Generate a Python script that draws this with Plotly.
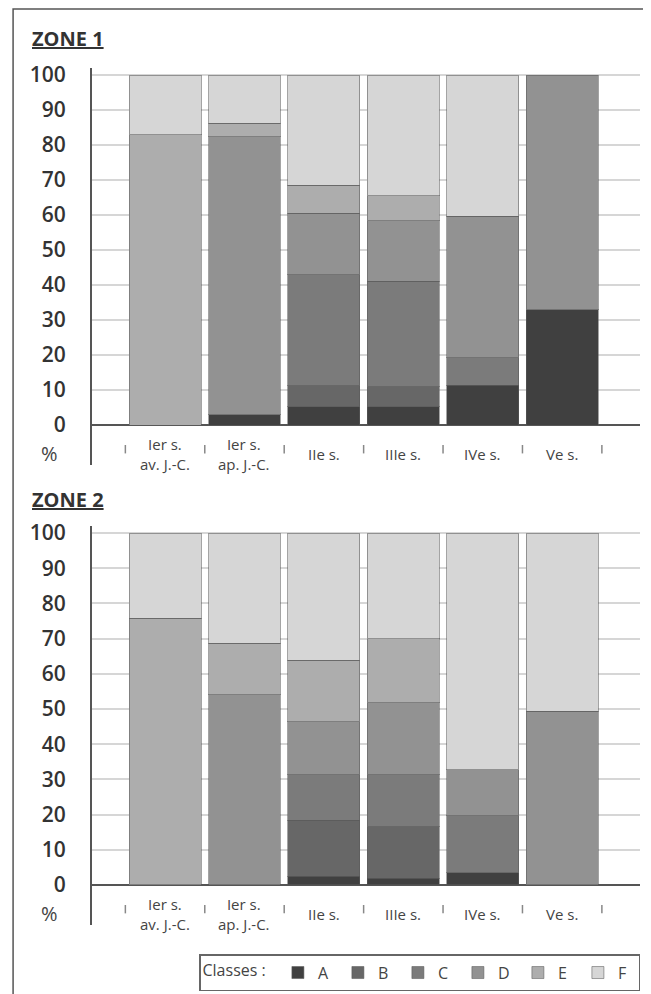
import plotly.graph_objects as go

categories = ["Ier s.<br>av. J.-C.", "Ier s.<br>ap. J.-C.", "IIe s.", "IIIe s.", "IVe s.", "Ve s."]
classes = ["A", "B", "C", "D", "E", "F"]
class_colors = ["#404040", "#676767", "#7b7b7b", "#929292", "#adadad", "#d6d6d6"]

# Zone 1 segment percentages per class
zone1_A = [0, 3, 5.3, 5.2, 11.4, 33]
zone1_B = [0, 0, 6, 5.7, 0, 0]
zone1_C = [0, 0, 31.6, 30.2, 7.9, 0]
zone1_D = [0, 79.4, 17.6, 17.3, 40.4, 67]
zone1_E = [83, 3.8, 8, 7.1, 0, 0]
zone1_F = [17, 13.8, 31.5, 34.5, 40.3, 0]

# Zone 2 segment percentages per class
zone2_A = [0, 0, 2.4, 1.9, 3.5, 0]
zone2_B = [0, 0, 15.9, 14.6, 0, 0]
zone2_C = [0, 0, 13, 14.8, 16.2, 0]
zone2_D = [0, 54, 15.1, 20.5, 13, 49.4]
zone2_E = [75.8, 14.7, 17.5, 18.1, 0, 0]
zone2_F = [24.2, 31.3, 36.1, 30.1, 67.3, 50.6]

y_ticks = list(range(0, 101, 10))

zone1 = [zone1_A, zone1_B, zone1_C, zone1_D, zone1_E, zone1_F]
zone2 = [zone2_A, zone2_B, zone2_C, zone2_D, zone2_E, zone2_F]

FONT = "Open Sans"
fig = go.Figure()
xs = list(range(len(categories)))

for zi, (zone, xa, ya) in enumerate([(zone1, "x", "y"), (zone2, "x2", "y2")]):
    for cls, col, vals in zip(classes, class_colors, zone):
        fig.add_trace(go.Bar(
            x=xs, y=[v if v else None for v in vals], name=cls,
            marker=dict(color=col, line=dict(color="rgba(90,90,90,0.55)", width=1)),
            width=0.905, xaxis=xa, yaxis=ya, showlegend=(zi == 0),
            hoverinfo="skip"))
    bounds = [i - 0.5 for i in range(len(categories) + 1)]
    fig.add_trace(go.Scatter(
        x=bounds, y=[-6.9] * len(bounds), mode="markers", xaxis=xa, yaxis=ya,
        marker=dict(symbol="line-ns", size=6, line=dict(color="#888", width=1.5)),
        showlegend=False, hoverinfo="skip", cliponaxis=False))
    for i, c in enumerate(categories):
        fig.add_annotation(x=i, y=-8.2, xref=xa, yref=ya, text=c, showarrow=False,
                           font=dict(family=FONT, size=15, color="#444"),
                           yanchor="middle", xanchor="center")
    fig.add_annotation(x=-0.077, y=-8.0, xref="paper", yref=ya, text="%", showarrow=False,
                       font=dict(family=FONT, size=20, color="#444"),
                       xanchor="center", yanchor="middle")

yaxis_common = dict(range=[-11.4, 102], tickvals=y_ticks, ticktext=[str(t) for t in y_ticks],
                    showgrid=True, gridcolor="#d6d6d6", gridwidth=2,
                    zeroline=True, zerolinecolor="#555", zerolinewidth=2,
                    showline=True, linecolor="#555", linewidth=2,
                    ticks="", ticklabelstandoff=20,
                    tickfont=dict(family=FONT, size=21, color="#333", weight=600))
xaxis_common = dict(range=[-0.92, 5.98], showticklabels=False, showgrid=False,
                    zeroline=False, showline=False, ticks="")

fig.update_layout(
    width=643, height=986,
    margin=dict(l=84, r=11, t=60, b=69, autoexpand=False),
    paper_bgcolor="white", plot_bgcolor="white",
    barmode="stack",
    xaxis=dict(domain=[0, 1], anchor="y", **xaxis_common),
    yaxis=dict(domain=[0.5368, 1.0], anchor="x", **yaxis_common),
    xaxis2=dict(domain=[0, 1], anchor="y2", **xaxis_common),
    yaxis2=dict(domain=[0.0, 0.4656], anchor="x2", **yaxis_common),
    legend=dict(orientation="h", x=1.0, xanchor="right", y=-0.034, yanchor="top",
                title=dict(text="Classes : ", side="left",
                           font=dict(family=FONT, size=16, color="#444")),
                font=dict(family=FONT, size=16, color="#444"),
                bgcolor="white", bordercolor="#666", borderwidth=1.5,
                entrywidth=15, traceorder="normal", itemclick=False),
    showlegend=True,
)

fig.add_annotation(x=-0.113, y=1.035, xref="paper", yref="paper", text="<b><u>ZONE 1</u></b>",
                   showarrow=False, xanchor="left", yanchor="middle",
                   font=dict(family=FONT, size=20, color="#333"))
fig.add_annotation(x=-0.113, y=0.496, xref="paper", yref="paper", text="<b><u>ZONE 2</u></b>",
                   showarrow=False, xanchor="left", yanchor="middle",
                   font=dict(family=FONT, size=20, color="#333"))

fig.add_shape(type="rect", xref="paper", yref="paper", x0=-0.144, x1=1.1, y0=-0.2, y1=1.0689,
              line=dict(color="#555", width=1.5), fillcolor="rgba(0,0,0,0)", layer="below")

fig.write_html("out.html")
